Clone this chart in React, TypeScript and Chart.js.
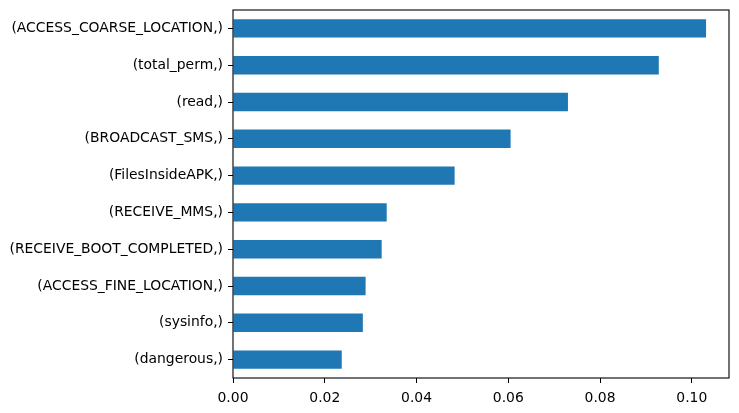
import React, { useEffect, useRef } from "react";
import { Chart, registerables } from "chart.js";

Chart.register(...registerables);

const features = [
  "(ACCESS_COARSE_LOCATION,)",
  "(total_perm,)",
  "(read,)",
  "(BROADCAST_SMS,)",
  "(FilesInsideAPK,)",
  "(RECEIVE_MMS,)",
  "(RECEIVE_BOOT_COMPLETED,)",
  "(ACCESS_FINE_LOCATION,)",
  "(sysinfo,)",
  "(dangerous,)",
];
const importances = [0.1031, 0.0928, 0.073, 0.0605, 0.0483, 0.0335, 0.0324, 0.0289, 0.0283, 0.0237];
const xTicks = [0, 0.02, 0.04, 0.06, 0.08, 0.1];
const xMax = 0.1081;

const frame = {
  id: "frame",
  afterDraw(chart: any) {
    const { ctx, chartArea } = chart;
    ctx.save();
    ctx.strokeStyle = "#000";
    ctx.lineWidth = 1.1;
    ctx.strokeRect(chartArea.left, chartArea.top, chartArea.right - chartArea.left, chartArea.bottom - chartArea.top);
    ctx.restore();
  },
};

export default function App() {
  const ref = useRef<HTMLCanvasElement>(null);
  useEffect(() => {
    document.body.style.margin = "0";
    const font = { family: "DejaVu Sans", size: 13.9 };
    const chart = new Chart(ref.current!, {
      type: "bar",
      data: {
        labels: features,
        datasets: [
          {
            data: importances,
            backgroundColor: "#1f77b4",
            barPercentage: 0.5,
            categoryPercentage: 1,
          },
        ],
      },
      plugins: [frame],
      options: {
        indexAxis: "y",
        animation: false,
        responsive: false,
        maintainAspectRatio: false,
        layout: { padding: { left: 0, right: 10, top: 10, bottom: 0 } },
        plugins: { legend: { display: false }, tooltip: { enabled: false } },
        scales: {
          x: {
            min: 0,
            max: xMax,
            afterBuildTicks: (s: any) => {
              s.ticks = xTicks.map((v) => ({ value: v }));
            },
            afterFit: (s: any) => {
              s.height = 35;
              s.paddingLeft = 0;
              s.paddingRight = 0;
            },
            grid: { drawOnChartArea: false, tickLength: 5, color: "#000", tickColor: "#000" },
            border: { display: false },
            ticks: {
              color: "#000",
              font,
              padding: 7,
              maxRotation: 0,
              callback: (v: any) => Number(v).toFixed(2),
            },
          },
          y: {
            afterFit: (s: any) => {
              s.width = 233;
              s.paddingTop = 0;
              s.paddingBottom = 0;
            },
            grid: { drawOnChartArea: false, tickLength: 5, color: "#000", tickColor: "#000", offset: false },
            border: { display: false },
            ticks: { color: "#000", font, padding: 5, autoSkip: false },
          },
        },
      },
    });
    return () => chart.destroy();
  }, []);
  return <canvas ref={ref} width={739} height={413} style={{ display: "block" }} />;
}
